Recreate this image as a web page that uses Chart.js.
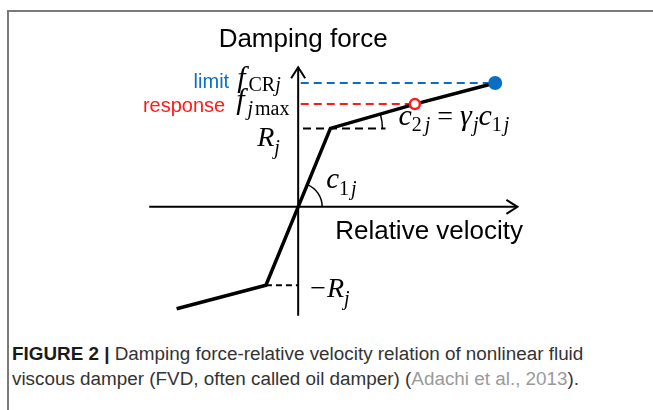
<!DOCTYPE html>
<html><head><meta charset="utf-8">
<script src="https://cdn.jsdelivr.net/npm/chart.js@4"></script>
<style>
html,body{margin:0;padding:0;background:#fff;width:653px;height:410px;overflow:hidden;}
#frame{position:absolute;left:7px;top:10px;width:700px;height:500px;border-top:2px solid #7a7a7a;border-left:2px solid #7a7a7a;}
#c{position:absolute;left:0;top:0;}
.cap{position:absolute;left:12px;font-family:"Liberation Sans",Arial,sans-serif;font-size:18px;color:#333;white-space:nowrap;transform-origin:0 0;}
</style></head><body>
<div id="frame"></div>
<canvas id="c" width="653" height="340"></canvas>
<div class="cap" id="cap1" style="top:344px"><b style="color:#1a1a1a">FIGURE 2 |</b> Damping force-relative velocity relation of nonlinear fluid</div>
<div class="cap" id="cap2" style="top:369px">viscous damper (FVD, often called oil damper) (<span style="color:#9a9a9a">Adachi et al., 2013</span>).</div>
<script>
// ---- data (schematic units: velocity normalised by knee velocity, force by R_j) ----
const velocity = [-3.77, -1.00, 0, 1.00, 3.62, 6.11];
const force    = [-1.30, -1.00, 0, 1.00, 1.31, 1.58];
const markerNames = ['response', 'limit'];
const markerV = [3.62, 6.11];
const markerF = [1.31, 1.58];
const kneeV = [1.00, -1.00];
const kneeF = [1.00, -1.00];
const kneeDashEndV = [2.71, 0];
const axisV = [-4.62, 6.80];
const axisF = [-1.39, 1.78];

// scale geometry (layout)
const PXV = 33, PXF = 82, OX = 297.5, OY = 208.5, W = 653, H = 340;

const BLUE = '#0A6FC2', RED = '#FF1A1A';

function seg(v0, v1, f) { return [{x: v0, y: f}, {x: v1, y: f}]; }

const datasets = [
  {label: markerNames[0], data: [{x: markerV[0], y: markerF[0]}], showLine: false,
   pointRadius: 5, pointBorderWidth: 2.5, pointBorderColor: RED, pointBackgroundColor: '#fff'},
  {label: markerNames[1], data: [{x: markerV[1], y: markerF[1]}], showLine: false,
   pointRadius: 7, pointBorderWidth: 0, pointBackgroundColor: BLUE},
  {label: 'curve', data: velocity.map((v, i) => ({x: v, y: force[i]})), showLine: true,
   borderColor: '#000', borderWidth: 3.5, pointRadius: 0, borderJoinStyle: 'miter', tension: 0},
  {label: 'limitDash', data: seg(0.08, markerV[1], markerF[1]), showLine: true,
   borderColor: BLUE, borderWidth: 2, borderDash: [8, 5], pointRadius: 0},
  {label: 'respDash', data: seg(0.08, markerV[0], markerF[0]), showLine: true,
   borderColor: RED, borderWidth: 2, borderDash: [8, 5], pointRadius: 0},
  {label: 'kneeDash', data: seg(0.15, kneeDashEndV[0], kneeF[0]), showLine: true,
   borderColor: '#000', borderWidth: 2, borderDash: [8, 5], pointRadius: 0},
  {label: 'kneeDash2', data: seg(kneeV[1], kneeDashEndV[1], kneeF[1]), showLine: true,
   borderColor: '#000', borderWidth: 2, borderDash: [6, 4], pointRadius: 0}
];

function runs(ctx, x, y, parts) {
  for (const p of parts) {
    ctx.font = p.f;
    ctx.fillStyle = p.c || '#000';
    const xx = x + (p.dx || 0);
    ctx.fillText(p.t, xx, y + (p.dy || 0));
    x = xx + ctx.measureText(p.t).width;
  }
}

const SERIF = '"Liberation Serif","Times New Roman",serif';
const SANS = '"Liberation Sans",Arial,sans-serif';
const I = s => 'italic ' + s + 'px ' + SERIF;
const N = s => s + 'px ' + SERIF;

const decor = {
  id: 'decor',
  beforeDatasetsDraw(chart) {
    const {ctx, scales: {x, y}} = chart;
    const ox = x.getPixelForValue(0), oy = y.getPixelForValue(0);
    ctx.save();
    ctx.strokeStyle = '#000'; ctx.lineWidth = 2; ctx.lineCap = 'butt';
    const xl = x.getPixelForValue(axisV[0]), xr = x.getPixelForValue(axisV[1]);
    ctx.beginPath(); ctx.moveTo(xl, oy); ctx.lineTo(xr, oy); ctx.stroke();
    ctx.beginPath(); ctx.moveTo(xr - 11, oy - 7); ctx.lineTo(xr, oy); ctx.lineTo(xr - 11, oy + 7); ctx.stroke();
    const yb = y.getPixelForValue(axisF[0]), yt = y.getPixelForValue(axisF[1]);
    ctx.beginPath(); ctx.moveTo(ox, yb); ctx.lineTo(ox, yt); ctx.stroke();
    ctx.beginPath(); ctx.moveTo(ox - 7, yt + 11); ctx.lineTo(ox, yt); ctx.lineTo(ox + 7, yt + 11); ctx.stroke();
    ctx.lineWidth = 1.5;
    const kx = x.getPixelForValue(velocity[3]), ky = y.getPixelForValue(force[3]);
    const a1 = Math.atan2(oy - ky, kx - ox);
    ctx.beginPath(); ctx.arc(ox, oy, 24, -a1, 0); ctx.stroke();
    const ex = x.getPixelForValue(velocity[5]), ey = y.getPixelForValue(force[5]);
    const a2 = Math.atan2(ky - ey, ex - kx);
    ctx.beginPath(); ctx.arc(kx, ky, 52, -a2, 0); ctx.stroke();
    ctx.restore();
  },
  afterDraw(chart) {
    const {ctx, scales: {x, y}} = chart;
    const ox = x.getPixelForValue(0), oy = y.getPixelForValue(0);
    const yl = y.getPixelForValue(markerF[1]), yr = y.getPixelForValue(markerF[0]);
    const yk = y.getPixelForValue(kneeF[0]), ykn = y.getPixelForValue(kneeF[1]);
    const kx = x.getPixelForValue(kneeV[0]);
    ctx.save();
    ctx.textBaseline = 'alphabetic';
    ctx.fillStyle = '#000';
    ctx.font = '26px ' + SANS; ctx.textAlign = 'center';
    ctx.fillText('Damping force', ox + 5, 47);
    ctx.textAlign = 'left';
    ctx.fillText('Relative velocity', ox + 37, oy + 32);
    ctx.font = '20px ' + SANS; ctx.textAlign = 'right';
    ctx.fillStyle = BLUE; ctx.fillText('limit', ox - 69, yl + 5);
    ctx.fillStyle = RED; ctx.fillText('response', ox - 73, yr + 8);
    ctx.textAlign = 'left';
    runs(ctx, ox - 61, yl + 4, [{t: 'f', f: I(30)}, {t: 'CR', f: N(20), dy: 4, dx: 3}, {t: 'j', f: I(20), dy: 4}]);
    runs(ctx, ox - 62, yr + 5, [{t: 'f', f: I(30)}, {t: 'j', f: I(20), dy: 6, dx: 3}, {t: 'max', f: N(20), dy: 6, dx: 2}]);
    runs(ctx, ox - 41, yk + 18, [{t: 'R', f: I(28)}, {t: 'j', f: I(20), dy: 8}]);
    runs(ctx, ox + 12, ykn + 12, [{t: '\u2212', f: N(28)}, {t: 'R', f: I(28), dx: 1}, {t: 'j', f: I(20), dy: 8}]);
    runs(ctx, ox + 28, oy - 19, [{t: 'c', f: I(29)}, {t: '1', f: N(20), dy: 7}, {t: 'j', f: I(20), dy: 7, dx: 2}]);
    runs(ctx, kx + 68, yk - 3, [{t: 'c', f: I(30)}, {t: '2', f: N(20), dy: 6}, {t: 'j', f: I(20), dy: 6, dx: 3},
      {t: ' = ', f: N(28)}, {t: '\u03B3', f: I(30)}, {t: 'j', f: I(20), dy: 6, dx: 1}, {t: 'c', f: I(30)},
      {t: '1', f: N(20), dy: 6}, {t: 'j', f: I(20), dy: 6, dx: 2}]);
    ctx.restore();
  }
};

new Chart(document.getElementById('c'), {
  type: 'scatter',
  data: {datasets},
  options: {
    responsive: false, animation: false, devicePixelRatio: 1,
    layout: {padding: 0},
    plugins: {legend: {display: false}, tooltip: {enabled: false}},
    scales: {
      x: {type: 'linear', display: false, min: -OX / PXV, max: (W - OX) / PXV},
      y: {type: 'linear', display: false, min: -(H - OY) / PXF, max: OY / PXF}
    }
  },
  plugins: [decor]
});

const c1 = document.getElementById('cap1'), c2 = document.getElementById('cap2');
const s = 571 / c1.scrollWidth;
c1.style.transform = 'scaleX(' + s + ')';
c2.style.transform = 'scaleX(' + s + ')';
</script>
</body></html>
